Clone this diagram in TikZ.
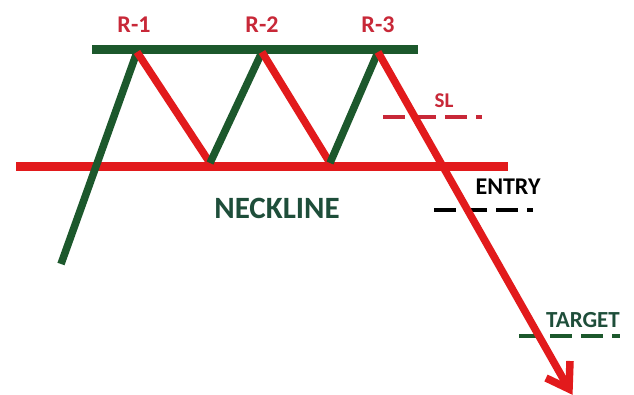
\documentclass[tikz,border=0pt]{standalone}
\usepackage{fontspec}
\setmainfont{Carlito}
\definecolor{dgreen}{RGB}{28,88,44}
\definecolor{tgreen}{RGB}{30,78,58}
\definecolor{lred}{RGB}{226,26,28}
\definecolor{tred}{RGB}{200,40,56}
\begin{document}
\begin{tikzpicture}[x=1pt,y=-1pt,
  bar/.style={line width=9pt},
  leg/.style={line width=7.5pt},
  lvl/.style={line width=4.5pt,dash pattern=on 22pt off 9pt},
  lab/.style={font=\bfseries\fontsize{24}{24}\selectfont,inner sep=0pt}]
\useasboundingbox (0,0) rectangle (634,394);
\fill[white] (0,0) rectangle (634,394);
% coordinates
\coordinate (start) at (61,264);
\coordinate (p1) at (137,52);
\coordinate (t1) at (210,163);
\coordinate (p2) at (262,52);
\coordinate (t2) at (330,163);
\coordinate (p3) at (378,52);
\coordinate (tip) at (569,389);
% level bars
\draw[bar,dgreen] (92,49) coordinate (topL) -- (418,49) coordinate (topR);
\draw[bar,lred] (16,166) coordinate (neckL) -- (508,166) coordinate (neckR);
% dashed levels
\draw[lvl,tred] (383,117) coordinate (slL) -- (482,117) coordinate (slR);
\draw[lvl,black] (434,210) coordinate (enL) -- (533,210) coordinate (enR);
\draw[lvl,dgreen] (519,336) coordinate (tgL) -- (620,336) coordinate (tgR);
% zigzag
\draw[leg,dgreen] (start) -- (p1);
\draw[leg,lred] (p1) -- (t1);
\draw[leg,dgreen] (t1) -- (p2);
\draw[leg,lred] (p2) -- (t2);
\draw[leg,dgreen] (t2) -- (p3);
\draw[leg,lred] (p3) -- (tip);
\coordinate (wl) at (546,378);
\coordinate (wr) at (570,361);
\draw[leg,lred,line join=miter] (wl) -- (tip) -- (wr);
% labels
\node[lab,tred] (r1) at (134,25) {R-1};
\node[lab,tred] (r2) at (262,25) {R-2};
\node[lab,tred] (r3) at (378,25) {R-3};
\node[lab,tgreen,font=\bfseries\fontsize{31}{31}\selectfont] (neck) at (277,208) {NECKLINE};
\node[lab,tred,font=\bfseries\fontsize{21}{21}\selectfont] (sl) at (444,101) {SL};
\node[lab,black] (entry) at (508,187) {ENTRY};
\node[lab,tgreen,font=\bfseries\fontsize{23}{23}\selectfont] (target) at (583,320) {TARGET};
\end{tikzpicture}
\end{document}
